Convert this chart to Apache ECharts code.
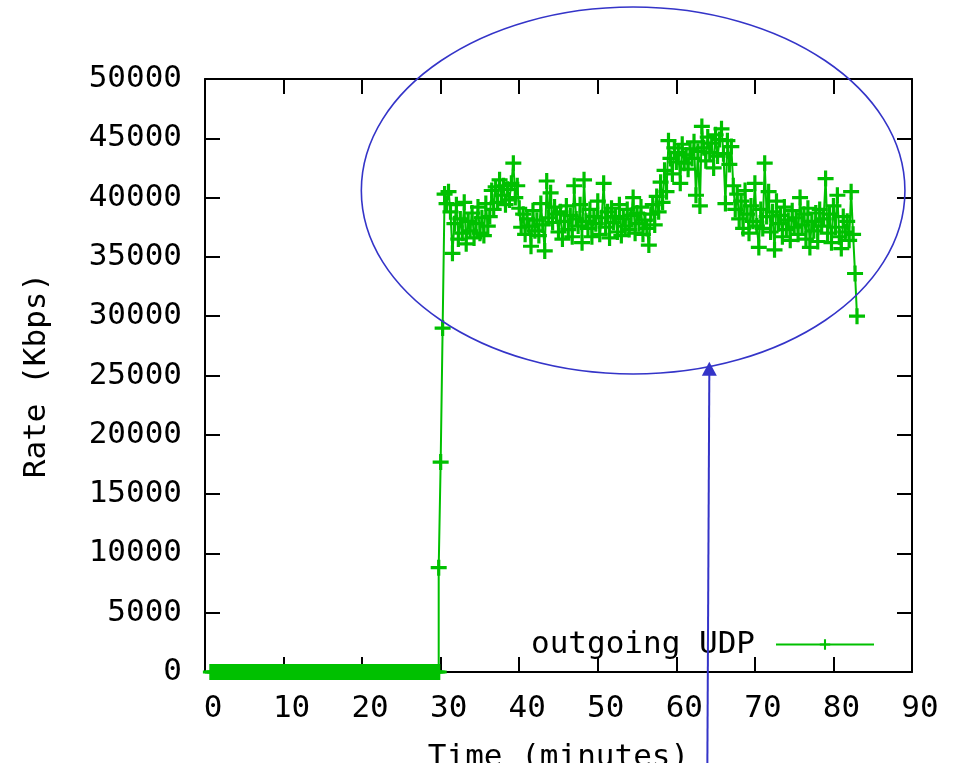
<!DOCTYPE html>
<html>
<head>
<meta charset="utf-8">
<script src="https://cdn.jsdelivr.net/npm/echarts@6/dist/echarts.min.js"></script>
<style>
  html, body { margin: 0; padding: 0; background: #fff; }
  #main { width: 959px; height: 763px; }
</style>
</head>
<body>
<div id="main"></div>
<script>
  // samples every 0.25 min; idle part then the transfer
  var sampleStep = 0.25
  var idleStart = 0.75
  var idleRate = [
    0, 0, 0, 0, 0, 0, 0, 0, 0, 0,
    0, 0, 0, 0, 0, 0, 0, 0, 0, 0,
    0, 0, 0, 0, 0, 0, 0, 0, 0, 0,
    0, 0, 0, 0, 0, 0, 0, 0, 0, 0,
    0, 0, 0, 0, 0, 0, 0, 0, 0, 0,
    0, 0, 0, 0, 0, 0, 0, 0, 0, 0,
    0, 0, 0, 0, 0, 0, 0, 0, 0, 0,
    0, 0, 0, 0, 0, 0, 0, 0, 0, 0,
    0, 0, 0, 0, 0, 0, 0, 0, 0, 0,
    0, 0, 0, 0, 0, 0, 0, 0, 0, 0,
    0, 0, 0, 0, 0, 0, 0, 0, 0, 0,
    0, 0, 0, 0, 0, 0, 0
  ]
  var activeStart = 29.75
  var activeRate = [
    8800,
    17700, 29000, 40300, 39500, // 30
    40500, 38800, 35300, 37800,
    39400, 36500, 38200, 37000,
    39600, 36100, 38000, 37200,
    38700, 36600, 37800, 39200,
    37000, 38300, 36800, 39500, // 35
    37600, 38400, 40600, 39000,
    40900, 39600, 41500, 40200,
    41000, 39400, 40700, 39800,
    41200, 42900, 40000, 41000,
    39100, 37500, 38600, 36900, // 40
    38200, 37600, 35900, 38900,
    37200, 38100, 36800, 39500,
    37700, 35500, 41400, 38300,
    40400, 37900, 39200, 38600,
    37100, 38800, 36500, 38000, // 45
    39300, 37300, 38500, 36700,
    41000, 38200, 37600, 39400,
    36200, 41500, 38000, 37400,
    39000, 36700, 38400, 37800,
    39700, 36900, 38300, 41200, // 50
    37500, 38800, 36600, 39100,
    37900, 38400, 37100, 39400,
    36800, 38200, 37600, 39000,
    37300, 38500, 40000, 37000,
    38700, 37800, 39200, 36900, // 55
    38100, 37400, 36000, 38600,
    39400, 37700, 40100, 38800,
    41300, 39600, 42300, 40500,
    44800, 43300, 42000, 44200,
    43000, 43800, 41200, 44500, // 60
    42900, 43600, 42400, 44100,
    43300, 44700, 40200, 43900,
    39300, 46000, 44200, 43100,
    45100, 43800, 44600, 42500,
    45300, 43500, 44900, 45800, // 65
    43700, 39500, 44800, 42800,
    44300, 41000, 39000, 40300,
    38200, 39700, 37400, 40600,
    38600, 37000, 39300, 38000,
    41200, 37600, 35800, 39000, // 70
    37400, 42900, 38400, 40500,
    37100, 38800, 35600, 39700,
    37800, 38500, 36700, 39200,
    37300, 38100, 36400, 38900,
    37500, 38300, 36900, 40000, // 75
    37700, 38600, 36500, 39100,
    35800, 38000, 37200, 38700,
    36300, 39000, 37600, 38200,
    41600, 37000, 38600, 36200,
    39300, 37500, 40200, 36700, // 80
    35700, 38400, 37100, 38000,
    36400, 40500, 36900, 33600,
    30000
  ]

  var xTicks = [0, 90, 10]
  var yTicks = [0, 50000, 5000]

  // hand drawn highlight, in data units
  var ringCenter = [54.5, 40600]
  var ringRadius = [34.6, 15470]
  var arrowTip = [64.2, 26150]
  var arrowTail = [63.95, -7700]

  var points = []
  idleRate.forEach(function (v, i) {
    points.push([idleStart + i * sampleStep, v])
  })
  activeRate.forEach(function (v, i) {
    points.push([activeStart + i * sampleStep, v])
  })

  var font = 'DejaVu Sans Mono'
  var fontSize = 31
  var green = '#00c000'
  var blue = '#3434c8'
  var cross = 'path://M6,0h3v6h6v3h-6v6h-3v-6h-6v-3h6z'

  function axisBase (extra) {
    var a = {
      type: 'value',
      splitLine: { show: false },
      axisLine: { show: true, onZero: false, lineStyle: { color: '#000', width: 2 } },
      axisTick: { show: true, inside: true, length: 15, lineStyle: { color: '#000', width: 2 } },
      axisLabel: { show: false }
    }
    for (var k in extra) a[k] = extra[k]
    return a
  }

  var myChart = echarts.init(document.getElementById('main'))
  var option = {
    animation: false,
    backgroundColor: '#fff',
    grid: { left: 205, top: 79, right: 47, bottom: 91, containLabel: false, outerBoundsMode: 'none' },
    legend: {
      data: ['outgoing UDP'],
      right: 79,
      top: 624,
      align: 'right',
      itemWidth: 98,
      itemHeight: 13,
      textStyle: { fontFamily: font, fontSize: fontSize, color: '#000', padding: [0, 16, 0, 0] }
    },
    xAxis: [
      axisBase({
        position: 'bottom',
        min: xTicks[0],
        max: xTicks[1],
        interval: xTicks[2],
        name: 'Time (minutes)',
        nameLocation: 'middle',
        nameGap: 70,
        nameTextStyle: { fontFamily: font, fontSize: fontSize, color: '#000' },
        axisLabel: { show: true, fontFamily: font, fontSize: fontSize, color: '#000', margin: 21, padding: [0, 0, 0, 16] }
      }),
      axisBase({ position: 'top', min: xTicks[0], max: xTicks[1], interval: xTicks[2] })
    ],
    yAxis: [
      axisBase({
        position: 'left',
        min: yTicks[0],
        max: yTicks[1],
        interval: yTicks[2],
        name: 'Rate (Kbps)',
        nameLocation: 'middle',
        nameGap: 153,
        nameTextStyle: { fontFamily: font, fontSize: fontSize, color: '#000' },
        axisLabel: {
          show: true,
          fontFamily: font,
          fontSize: fontSize,
          color: '#000',
          margin: 23,
          formatter: function (v) { return String(v) }
        }
      }),
      axisBase({ position: 'right', min: yTicks[0], max: yTicks[1], interval: yTicks[2] })
    ],
    series: [{
      name: 'outgoing UDP',
      type: 'line',
      data: points,
      symbol: cross,
      symbolSize: 16,
      showAllSymbol: true,
      itemStyle: { color: green },
      lineStyle: { color: green, width: 2 }
    }]
  }
  myChart.setOption(option)

  // annotation: ellipse around the transfer and an arrow pointing at it
  var c = myChart.convertToPixel({ xAxisIndex: 0, yAxisIndex: 0 }, ringCenter)
  var e = myChart.convertToPixel({ xAxisIndex: 0, yAxisIndex: 0 }, [ringCenter[0] + ringRadius[0], ringCenter[1] + ringRadius[1]])
  var tip = myChart.convertToPixel({ xAxisIndex: 0, yAxisIndex: 0 }, arrowTip)
  var tail = myChart.convertToPixel({ xAxisIndex: 0, yAxisIndex: 0 }, arrowTail)

  myChart.setOption({
    graphic: [
      {
        type: 'ellipse',
        silent: true,
        z: 100,
        shape: { cx: c[0], cy: c[1], rx: e[0] - c[0], ry: c[1] - e[1] },
        style: { fill: 'none', stroke: blue, lineWidth: 1.6 }
      },
      {
        type: 'line',
        silent: true,
        z: 100,
        shape: { x1: tail[0], y1: tail[1], x2: tip[0], y2: tip[1] + 10 },
        style: { stroke: blue, lineWidth: 2 }
      },
      {
        type: 'polygon',
        silent: true,
        z: 100,
        shape: { points: [[tip[0], tip[1]], [tip[0] - 7.5, tip[1] + 14], [tip[0] + 7.5, tip[1] + 14]] },
        style: { fill: blue }
      }
    ]
  })
</script>
</body>
</html>
